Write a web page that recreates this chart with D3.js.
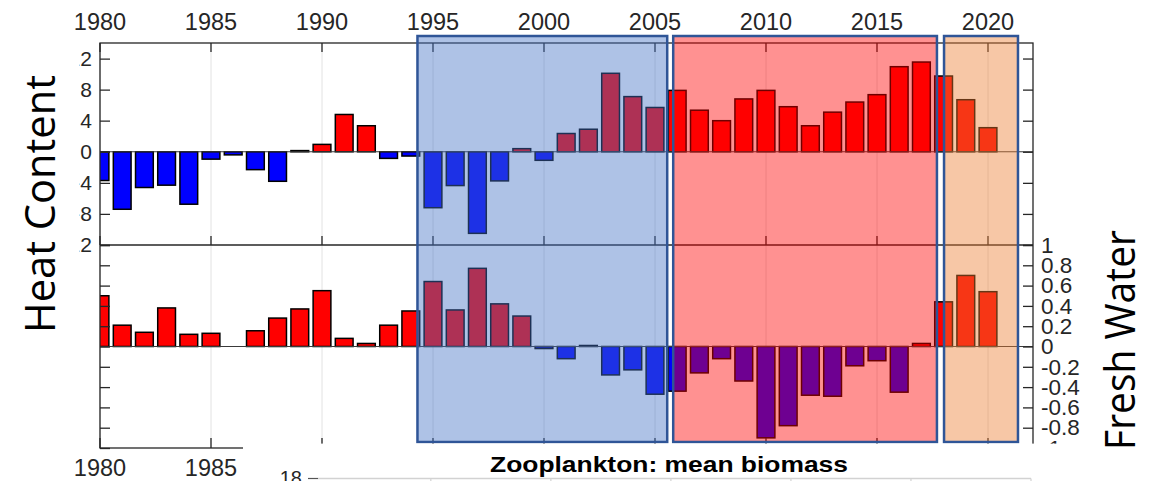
<!DOCTYPE html>
<html>
<head>
<meta charset="utf-8">
<script src="https://cdn.jsdelivr.net/npm/d3@7"></script>
<style>
    body { margin: 0; background: #fff; }
    svg { display: block; }
</style>
</head>
<body>
<div id="space"></div>
<script>
// ---- data ----
var years = [1980, 1981, 1982, 1983, 1984, 1985, 1986, 1987, 1988, 1989,
             1990, 1991, 1992, 1993, 1994, 1995, 1996, 1997, 1998, 1999,
             2000, 2001, 2002, 2003, 2004, 2005, 2006, 2007, 2008, 2009,
             2010, 2011, 2012, 2013, 2014, 2015, 2016, 2017, 2018, 2019, 2020];

var heatContent = [-3.7, -7.4, -4.6, -4.3, -6.75, -0.95, -0.4, -2.3, -3.8, 0.15,
                   0.95, 4.8, 3.35, -0.85, -0.55, -7.2, -4.35, -10.5, -3.75, 0.4,
                   -1.1, 2.35, 2.9, 10.1, 7.1, 5.7, 7.9, 5.35, 4.0, 6.8,
                   7.9, 5.8, 3.35, 5.1, 6.4, 7.35, 10.95, 11.55, 9.75, 6.7, 3.1];

var freshWater = [0.5, 0.21, 0.14, 0.38, 0.12, 0.13, 0, 0.155, 0.28, 0.37,
                  0.55, 0.08, 0.03, 0.21, 0.35, 0.64, 0.36, 0.77, 0.42, 0.30,
                  -0.02, -0.12, 0.01, -0.28, -0.23, -0.47, -0.44, -0.26, -0.12, -0.34,
                  -0.90, -0.78, -0.48, -0.49, -0.19, -0.14, -0.45, 0.03, 0.44, 0.70, 0.54];

var yearTicks = [1980, 1985, 1990, 1995, 2000, 2005, 2010, 2015, 2020];
var bottomYearTicks = [1980, 1985];   // the rest is hidden under the lower picture
var heatTicks = [12, 8, 4, 0, -4, -8, -12];
var freshTicks = [1, 0.8, 0.6, 0.4, 0.2, 0, -0.2, -0.4, -0.6, -0.8, -1];

// highlighted periods (start year, end year)
var periodStart = [1994.3, 2005.82, 2018.02];
var periodEnd = [2005.55, 2017.7, 2021.35];
var periodColor = ["#4472c4", "#ff0000", "#ed7d31"];

var zooTicks = [1995, 2000, 2005, 2010, 2015, 2020];

var svg, x, yHeat, yFresh, bw;
var W = 1163, H = 481;
var plotLeft = 100, plotRight = 1033, topY = 43, midY = 245, botY = 448;
var axisColor = "#262626";
var labelFont = "'Liberation Sans', Arial, sans-serif";

init();

function init() {
    initSvg();

    x = d3.scaleLinear().domain([1980, 2020]).range([100, 988]);
    yHeat = d3.scaleLinear().domain([-12, 14]).range([midY, topY]);
    yFresh = d3.scaleLinear().domain([-1, 1]).range([botY, midY]);
    bw = (x(1981) - x(1980)) * 0.8;

    drawGrid();
    drawBars();
    drawFrame();
    drawAxes();
    drawPeriods();
    drawCover();
    drawLabels();
}

function initSvg() {
    svg = d3.select("#space").append("svg")
        .attr("xmlns", "http://www.w3.org/2000/svg")
        .attr("width", W)
        .attr("height", H);

    svg.append("rect").attr("width", W).attr("height", H).attr("fill", "#fff");

    var defs = svg.append("defs");
    defs.append("clipPath").attr("id", "plotClip")
        .append("rect")
        .attr("x", plotLeft).attr("y", topY)
        .attr("width", plotRight - plotLeft).attr("height", botY - topY);
    // the left tick labels of the heat axis are cut off in the source
    defs.append("clipPath").attr("id", "labelClip")
        .append("rect")
        .attr("x", 79.5).attr("y", 0)
        .attr("width", W).attr("height", H);
}

/************************************************
                Chart body
*************************************************/
function drawGrid() {
    svg.append("g").attr("id", "grid")
        .selectAll("line")
        .data(yearTicks)
        .join("line")
        .attr("x1", function (d) { return x(d); })
        .attr("x2", function (d) { return x(d); })
        .attr("y1", topY)
        .attr("y2", botY)
        .attr("stroke", "#e2e2e2")
        .attr("stroke-width", 1);
}

function drawBars() {
    var g = svg.append("g").attr("id", "bars").attr("clip-path", "url(#plotClip)");

    g.selectAll("rect.heat")
        .data(years)
        .join("rect")
        .attr("class", "heat")
        .attr("x", function (d) { return x(d) - bw / 2; })
        .attr("y", function (d, i) { return yHeat(Math.max(0, heatContent[i])); })
        .attr("width", bw)
        .attr("height", function (d, i) { return Math.abs(yHeat(heatContent[i]) - yHeat(0)); })
        .attr("fill", function (d, i) { return heatContent[i] >= 0 ? "#ff0000" : "#0000ff"; })
        .attr("stroke", "#000")
        .attr("stroke-width", 1.5);

    g.selectAll("rect.fresh")
        .data(years)
        .join("rect")
        .attr("class", "fresh")
        .attr("x", function (d) { return x(d) - bw / 2; })
        .attr("y", function (d, i) { return yFresh(Math.max(0, freshWater[i])); })
        .attr("width", bw)
        .attr("height", function (d, i) { return Math.abs(yFresh(freshWater[i]) - yFresh(0)); })
        .attr("fill", function (d, i) { return freshWater[i] >= 0 ? "#ff0000" : "#0000ff"; })
        .attr("stroke", "#000")
        .attr("stroke-width", 1.5);

    //zero lines
    g.append("line")
        .attr("x1", plotLeft).attr("x2", plotRight)
        .attr("y1", yHeat(0)).attr("y2", yHeat(0))
        .attr("stroke", "#3a3a3a").attr("stroke-width", 1.2);
    g.append("line")
        .attr("x1", plotLeft).attr("x2", plotRight)
        .attr("y1", yFresh(0)).attr("y2", yFresh(0))
        .attr("stroke", "#3a3a3a").attr("stroke-width", 1.2);
}

function drawFrame() {
    var g = svg.append("g").attr("id", "frame")
        .attr("stroke", axisColor).attr("stroke-width", 1.3).attr("fill", "none");

    g.append("rect")
        .attr("x", plotLeft).attr("y", topY)
        .attr("width", plotRight - plotLeft).attr("height", botY - topY);
    g.append("line")
        .attr("x1", plotLeft).attr("x2", plotRight)
        .attr("y1", midY).attr("y2", midY);

    //year ticks, pointing inward
    var ticks = [[topY, topY + 9], [midY - 9, midY], [botY - 10, botY]];
    ticks.forEach(function (t) {
        g.append("g").selectAll("line")
            .data(yearTicks)
            .join("line")
            .attr("x1", function (d) { return x(d); })
            .attr("x2", function (d) { return x(d); })
            .attr("y1", t[0])
            .attr("y2", t[1]);
    });

    //year labels top and bottom
    var lab = svg.append("g").attr("id", "yearLabels")
        .attr("font-family", labelFont)
        .attr("font-size", 23.5)
        .attr("fill", axisColor)
        .attr("text-anchor", "middle");
    lab.selectAll("text.top")
        .data(yearTicks)
        .join("text")
        .attr("class", "top")
        .attr("x", function (d) { return x(d); })
        .attr("y", 29.5)
        .text(function (d) { return d; });
    lab.selectAll("text.bot")
        .data(bottomYearTicks)
        .join("text")
        .attr("class", "bot")
        .attr("x", function (d) { return x(d); })
        .attr("y", 476)
        .text(function (d) { return d; });
}

function styleAxis(g, size) {
    g.select(".domain").remove();
    g.style("color", axisColor)
        .attr("font-family", labelFont)
        .attr("font-size", size);
    g.selectAll("line").attr("stroke-width", 1.3);
}

function drawAxes() {
    //wrapper without transform so the clip works in page coordinates
    var heatLeft = svg.append("g")
        .attr("clip-path", "url(#labelClip)")
        .append("g")
        .attr("transform", "translate(" + plotLeft + ",0)")
        .call(d3.axisLeft(yHeat).tickValues(heatTicks).tickSize(-10).tickPadding(8)
            .tickFormat(function (d) { return String(d); }));
    styleAxis(heatLeft, 21);

    var heatRight = svg.append("g")
        .attr("transform", "translate(" + plotRight + ",0)")
        .call(d3.axisRight(yHeat).tickValues(heatTicks).tickSize(-10).tickFormat(""));
    styleAxis(heatRight, 21);

    var freshLeft = svg.append("g")
        .attr("transform", "translate(" + plotLeft + ",0)")
        .call(d3.axisLeft(yFresh).tickValues(freshTicks).tickSize(-10).tickFormat(""));
    styleAxis(freshLeft, 21);

    var freshRight = svg.append("g")
        .attr("transform", "translate(" + plotRight + ",0)")
        .call(d3.axisRight(yFresh).tickValues(freshTicks).tickSize(-10).tickPadding(8)
            .tickFormat(function (d) { return String(d); }));
    styleAxis(freshRight, 22.5);
}

function drawPeriods() {
    svg.append("g").attr("id", "periods")
        .selectAll("rect")
        .data(periodStart)
        .join("rect")
        .attr("x", function (d) { return x(d); })
        .attr("y", 36)
        .attr("width", function (d, i) { return x(periodEnd[i]) - x(d); })
        .attr("height", 406)
        .attr("fill", function (d, i) { return periodColor[i]; })
        .attr("fill-opacity", 0.43)
        .attr("stroke", "#2f5597")
        .attr("stroke-width", 2.5);
}

/************************************************
        Lower picture (zooplankton panel)
*************************************************/
function drawCover() {
    svg.append("rect")
        .attr("x", 243).attr("y", 443.6)
        .attr("width", 1095 - 243).attr("height", H - 443.6)
        .attr("fill", "#fff");

    var zx = d3.scaleLinear().domain([1990.3, 2020]).range([318, 1031]);
    var g = svg.append("g").attr("id", "zoo");

    g.append("line")
        .attr("x1", zx(1990.3)).attr("x2", zx(2020))
        .attr("y1", 478.5).attr("y2", 478.5)
        .attr("stroke", "#d2d2d2").attr("stroke-width", 1.5);
    g.append("line")
        .attr("x1", 308).attr("x2", zx(1990.3))
        .attr("y1", 478.5).attr("y2", 478.5)
        .attr("stroke", "#555").attr("stroke-width", 1.2);
    g.selectAll("line.zt")
        .data(zooTicks)
        .join("line")
        .attr("class", "zt")
        .attr("x1", function (d) { return zx(d); })
        .attr("x2", function (d) { return zx(d); })
        .attr("y1", 478.5).attr("y2", H)
        .attr("stroke", "#d2d2d2").attr("stroke-width", 1.2);

    //only the top of this label shows in the source
    g.append("text")
        .attr("x", 302).attr("y", 484.5)
        .attr("text-anchor", "end")
        .attr("font-family", labelFont)
        .attr("font-size", 20)
        .attr("fill", axisColor)
        .text("18");

    g.append("text")
        .attr("x", 669).attr("y", 472)
        .attr("text-anchor", "middle")
        .attr("font-family", labelFont)
        .attr("font-weight", "bold")
        .attr("font-size", 22)
        .attr("textLength", 358)
        .attr("lengthAdjust", "spacingAndGlyphs")
        .attr("fill", "#000")
        .text("Zooplankton: mean biomass");
}

function drawLabels() {
    svg.append("text")
        .attr("transform", "translate(55,204) rotate(-90)")
        .attr("text-anchor", "middle")
        .attr("font-family", "'Open Sans', 'Noto Sans', sans-serif")
        .attr("font-size", 42)
        .attr("textLength", 258)
        .attr("lengthAdjust", "spacingAndGlyphs")
        .attr("fill", "#000")
        .text("Heat Content");

    svg.append("text")
        .attr("transform", "translate(1135,340) rotate(-90)")
        .attr("text-anchor", "middle")
        .attr("font-family", "'Open Sans', 'Noto Sans', sans-serif")
        .attr("font-size", 42)
        .attr("textLength", 220)
        .attr("lengthAdjust", "spacingAndGlyphs")
        .attr("fill", "#000")
        .text("Fresh Water");
}
</script>
</body>
</html>
